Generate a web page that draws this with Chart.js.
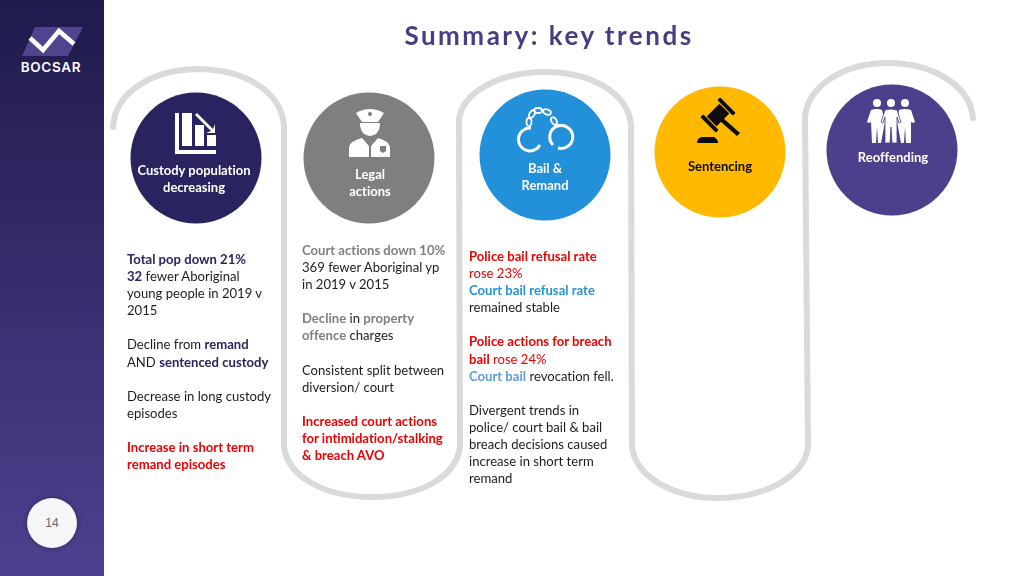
<!DOCTYPE html>
<html>
<head>
<meta charset="utf-8">
<script src="https://cdn.jsdelivr.net/npm/chart.js@4"></script>
<style>
  html, body { margin: 0; padding: 0; background: #fff; }
  #page { position: relative; width: 1024px; height: 576px; overflow: hidden; font-family: Lato, "Open Sans", sans-serif; font-variant-ligatures: none; }
  #side { position: absolute; left: 0; top: 0; width: 104px; height: 576px; background: linear-gradient(#1f1b4c, #4f408f); }
  #brand { position: absolute; left: 0; width: 102px; top: 59px; text-align: center; color: #fff; font: 600 13.5px Inter, sans-serif; letter-spacing: .7px; }
  #pageno { position: absolute; left: 27px; top: 498px; width: 50px; height: 50px; border-radius: 50%; background: #f6f6f8; box-shadow: 0 0 5px rgba(0,0,0,.35); text-align: center; font: 12px/50px "Liberation Sans", sans-serif; color: #666; }
  #title { position: absolute; left: 104px; width: 890px; top: 18px; text-align: center; color: #473d82; font-size: 26px; font-weight: 700; letter-spacing: 2.5px; line-height: 34px; }
  svg { position: absolute; left: 0; top: 0; }
  #chartBox { position: absolute; left: 0; top: 0; width: 1024px; height: 576px; }
  .lbl { position: absolute; width: 130px; text-align: center; color: #fff; font-size: 13px; font-weight: 700; line-height: 17px; white-space: pre; }
  .col { position: absolute; font-size: 13.1px; line-height: 17.1px; color: #1c1c1c; white-space: pre; }
  .col b { font-weight: 700; }
  .n { color: #2a2560; } .g { color: #7f7f7f; } .r { color: #f00000; } .bl { color: #2293d9; } .lb { color: #5b9bd5; }
</style>
</head>
<body>
<div id="page">
  <svg width="1024" height="576" fill="none">
    <path d="M113 127 C115 92 152 70 197 69 C243 69 281 90 284 126 L284 447 C288 477 325 497 372 497 C420 497 456 477 460 447 L459 120 C462 92 500 72 545 72 C590 72 628 92 631 125 L632 447 C636 478 675 498 718 498 C762 498 804 478 808 447 L805 117 C808 85 845 63 888 63 C932 63 970 85 973 118" stroke="#dadada" stroke-width="6" stroke-linecap="round"/>
  </svg>
  <div id="chartBox"><canvas id="slide"></canvas></div>
  <div id="side"></div>
  <svg width="104" height="70">
    <path d="M35 27 L83 27 L68 56 L22 56 Z" fill="#51448f"/>
    <path d="M30 38 L43 50 L59 31 L74 44" stroke="#fff" stroke-width="4.5" fill="none"/>
  </svg>
  <div id="brand">BOCSAR</div>
  <div id="pageno">14</div>
  <div id="title">Summary: key trends</div>

  <svg width="1024" height="576">
    <!-- bars icon -->
    <g fill="#fff">
      <path d="M175 113h4v37h37v4h-41z"/>
      <rect x="182" y="113" width="10" height="33"/>
      <rect x="195" y="125" width="9" height="21"/>
      <rect x="207" y="135" width="9" height="11"/>
      <path d="M197 113 L213 129 L215 124 L215 133 L206 133 L211 131 L195 115 Z"/>
    </g>
    <!-- officer icon -->
    <g fill="#fff">
      <path d="M356 113 Q370 105 384 113 L378 122 L362 122 Z"/>
      <path d="M360 123 L380 123 Q380 135 370 136 Q360 135 360 123 Z"/>
      <path d="M349 157 L349 147 Q350 141 362 138 L369 146 L369 157 Z"/>
      <path d="M390 157 L390 147 Q389 141 378 138 L371 146 L371 157 Z"/>
      <path d="M380 146 h6 v5 l-3 2 l-3 -2 z" fill="#7f7f7f"/>
      <circle cx="370" cy="114" r="2" fill="#7f7f7f"/>
    </g>
    <!-- handcuffs icon -->
    <g fill="none" stroke="#fff" stroke-width="3">
      <path d="M531 128 A11.5 11.5 0 1 0 540 145"/>
      <path d="M558 148 A11.5 11.5 0 1 0 553 145"/>
    </g>
    <g fill="none" stroke="#fff" stroke-width="1.8">
      <ellipse cx="529" cy="122" rx="2.5" ry="4"/>
      <ellipse cx="532" cy="114" rx="2.5" ry="4" transform="rotate(30 532 114)"/>
      <ellipse cx="538" cy="110.5" rx="4" ry="2.5"/>
      <ellipse cx="547" cy="112" rx="4" ry="2.5" transform="rotate(20 547 112)"/>
      <ellipse cx="554" cy="121" rx="2.5" ry="4" transform="rotate(-30 554 121)"/>
    </g>
    <!-- gavel icon -->
    <g fill="#0c0c0c">
      <g transform="rotate(-45 718 115)">
        <rect x="709" y="108" width="18" height="14"/>
        <rect x="704" y="104" width="4" height="22" rx="1"/>
        <rect x="728" y="104" width="4" height="22" rx="1"/>
      </g>
      <path d="M723 118 L740 133 L737 136 L720 121 Z"/>
      <path d="M697 143 Q697 138 702 137 L714 137 Q718 139 718 143 Z"/>
    </g>
    <!-- people icon -->
    <g fill="#fff">
      <circle cx="877" cy="103" r="4"/><circle cx="891" cy="103" r="4"/><circle cx="905" cy="103" r="4"/>
      <path d="M867 122 L871 110 Q877 108 882 110 L885 122 L881 143 L878 143 L877 127 L876 143 L872 143 L871 122 L869 123Z"/>
      <path d="M899 110 Q905 108 911 110 L915 122 L913 123 L911 122 L911 143 L906 143 L905 127 L904 143 L901 143 L897 122Z"/>
      <path d="M881 122 L885 110 Q891 108 897 110 L901 122 L899 123 L897 117 L897 143 L892 143 L891 127 L890 143 L885 143 L885 117 L883 123Z" stroke="#4d3f8c" stroke-width=".8"/>
    </g>
  </svg>

  <div class="lbl" style="left:129px;top:162px">Custody population
decreasing</div>
  <div class="lbl" style="left:305px;top:166px">Legal
actions</div>
  <div class="lbl" style="left:480px;top:160px">Bail &amp;
Remand</div>
  <div class="lbl" style="left:655px;top:158px;color:#0c0c0c">Sentencing</div>
  <div class="lbl" style="left:828px;top:149px">Reoffending</div>

  <div class="col" style="left:127px;top:251px"><b class="n">Total pop down 21%</b>
<b class="n">32</b> fewer Aboriginal
young people in 2019 v
2015

Decline from <b class="n">remand</b>
AND <b class="n">sentenced custody</b>

Decrease in long custody
episodes

<b class="r">Increase in short term
remand episodes</b></div>

  <div class="col" style="left:302px;top:242px"><b class="g">Court actions down 10%</b>
369 fewer Aboriginal yp
in 2019 v 2015

<b class="g">Decline</b> in <b class="g">property
offence</b> charges

Consistent split between
diversion/ court

<b class="r">Increased court actions
for intimidation/stalking
&amp; breach AVO</b></div>

  <div class="col" style="left:469px;top:248px"><b class="r">Police bail refusal rate</b>
<span class="r">rose 23%</span>
<b class="bl">Court bail refusal rate</b>
remained stable

<b class="r">Police actions for breach
bail</b> <span class="r">rose 24%</span>
<b class="lb">Court bail</b> revocation fell.

Divergent trends in
police/ court bail &amp; bail
breach decisions caused
increase in short term
remand</div>
</div>

<script>
const topics = ["Custody population decreasing", "Legal actions", "Bail & Remand", "Sentencing", "Reoffending"];
const topicX = [196, 369, 545, 720, 892];
const topicY = [158, 158, 155, 152, 150];
const topicSize = [65.5, 65.5, 65.5, 65.5, 65.5];
const topicColors = ["#29235f", "#7f7f7f", "#2291d9", "#ffb900", "#4d3f8c"];

const points = topics.map((name, i) => ({ x: topicX[i], y: topicY[i], r: topicSize[i] }));

new Chart(document.getElementById("slide"), {
  type: "bubble",
  data: {
    labels: topics,
    datasets: [{ data: points, backgroundColor: topicColors, borderWidth: 0 }],
  },
  options: {
    responsive: true,
    maintainAspectRatio: false,
    animation: false,
    layout: { padding: 0, autoPadding: false },
    plugins: { legend: { display: false }, tooltip: { enabled: false } },
    scales: {
      x: { type: "linear", min: 0, max: 1024, display: false },
      y: { type: "linear", min: 0, max: 576, reverse: true, display: false },
    },
  },
});
</script>
</body>
</html>
